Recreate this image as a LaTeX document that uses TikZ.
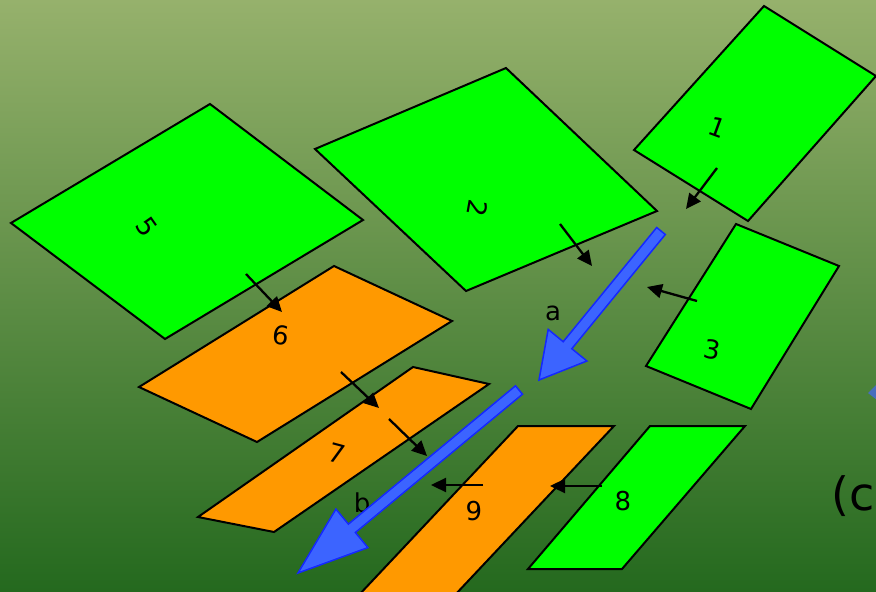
\documentclass[tikz,border=0pt]{standalone}
\usepackage{fontspec}
\setmainfont{DejaVu Sans}
\usetikzlibrary{arrows.meta}
\definecolor{bgtop}{RGB}{150,177,108}
\definecolor{bgmid}{RGB}{86,142,66}
\definecolor{bgbot}{RGB}{36,105,30}
\definecolor{lgreen}{RGB}{0,255,0}
\definecolor{orng}{RGB}{255,153,0}
\definecolor{bfill}{RGB}{60,100,255}
\definecolor{bline}{RGB}{20,40,255}
\definecolor{mblue}{RGB}{70,110,190}
\tikzset{
 tile/.style={draw=black, line width=2pt, line join=miter},
 gtile/.style={tile, fill=lgreen},
 otile/.style={tile, fill=orng},
 lab/.style={font=\fontsize{26}{30}\selectfont, inner sep=0pt},
 flow/.style={line width=2.3pt, -{Triangle[length=15pt,width=14pt]}},
 bigarrow/.style={fill=bfill, draw=bline, line width=1.5pt, line join=miter},
}
\begin{document}
\begin{tikzpicture}[x=1pt,y=-1pt]
\useasboundingbox (0,0) rectangle (876,592);
\clip (0,0) rectangle (876,592);
\shade[top color=bgtop, middle color=bgmid, bottom color=bgbot] (0,0) rectangle (876,592);

% tiles
\draw[gtile] (764,6) -- (876,76) -- (748,221) -- (634,150) -- cycle;
\draw[gtile] (506,68) -- (657,211) -- (466,291) -- (315,149) -- cycle;
\draw[gtile] (210,104) -- (363,220) -- (165,339) -- (11,223) -- cycle;
\draw[gtile] (736,224) -- (839,266) -- (751,409) -- (646,366) -- cycle;
\draw[otile] (334,266) -- (452,321) -- (257,442) -- (139,387) -- cycle;
\draw[otile] (413,367) -- (489,384) -- (274,532) -- (198,517) -- cycle;
\draw[otile] (518,426) -- (614,426) -- (454,596) -- (358,596) -- cycle;
\draw[gtile] (650,426) -- (745,426) -- (622,569) -- (528,569) -- cycle;

% labels
\node[lab, rotate=-20] (l1) at (718,127) {1};
\node[lab, rotate=-100] (l2) at (478,208) {2};
\node[lab, rotate=-10] (l3) at (712,350) {3};
\node[lab, rotate=-55] (l5) at (147,227) {5};
\node[lab, rotate=-8] (l6) at (281,335) {6};
\node[lab, rotate=-15] (l7) at (337,453) {7};
\node[lab] (l8) at (623,501) {8};
\node[lab] (l9) at (474,511) {9};
\node[lab] (la) at (553,313) {a};
\node[lab] (lb) at (362,503) {b};

% small flow arrows
\coordinate (f1s) at (717,168); \coordinate (f1e) at (686,209);
\coordinate (f2s) at (560,224); \coordinate (f2e) at (592,266);
\coordinate (f3s) at (697,301); \coordinate (f3e) at (647,287);
\coordinate (f5s) at (246,274); \coordinate (f5e) at (282,312);
\coordinate (f6s) at (341,372); \coordinate (f6e) at (379,408);
\coordinate (f7s) at (389,419); \coordinate (f7e) at (427,456);
\coordinate (f8s) at (602,486); \coordinate (f8e) at (550,486);
\coordinate (f9s) at (483,485); \coordinate (f9e) at (431,485);
\foreach \k in {1,2,3,5,6,7,8,9} \draw[flow] (f\k s) -- (f\k e);

% big blue arrows
\draw[bigarrow] (665.3,234.5) -- (571.8,348.7) -- (586.9,361.0) -- (539,380)
  -- (548.2,329.4) -- (563.2,341.7) -- (656.7,227.5) -- cycle;
\draw[bigarrow] (522.5,394.2) -- (355.4,532.5) -- (367.9,547.6) -- (298,573)
  -- (335.9,509.1) -- (348.4,524.1) -- (515.5,385.8) -- cycle;

% partial items at right edge
\fill[mblue] (868,393) -- (877,384) -- (877,400) -- cycle;
\node[font=\fontsize{46}{50}\selectfont, inner sep=0pt, anchor=base west] (cl) at (831,510) {(c)};
\end{tikzpicture}
\end{document}
